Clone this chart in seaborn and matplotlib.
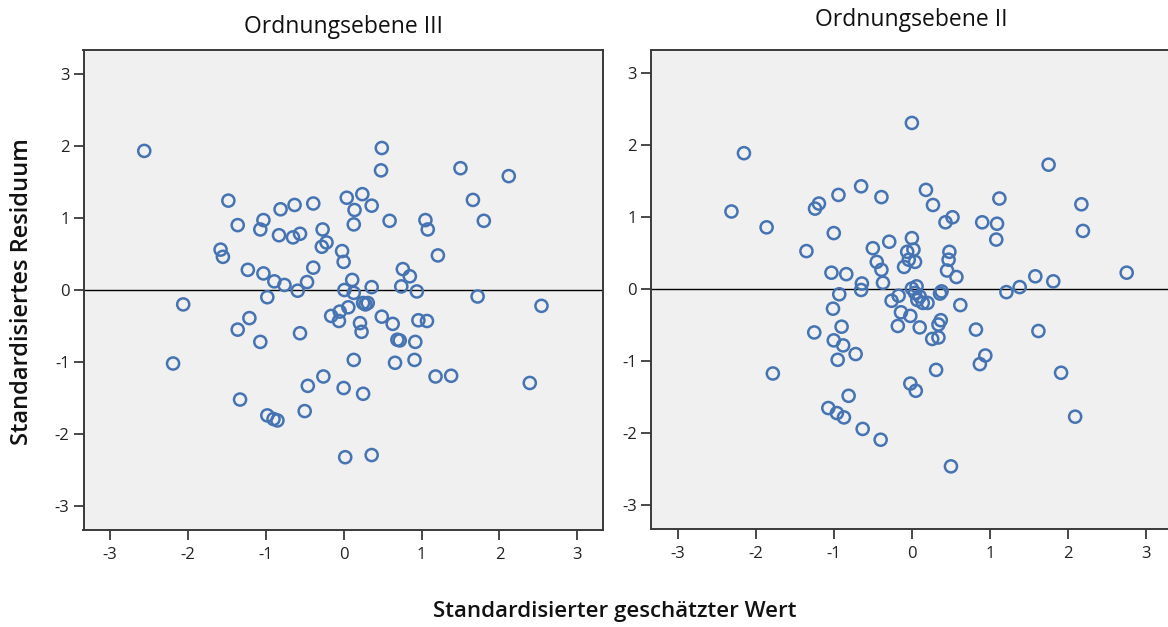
import matplotlib
matplotlib.use("Agg")
import matplotlib.pyplot as plt
import seaborn as sns
import pandas as pd

# Ordnungsebene III: standardized predicted value vs. standardized residual
pred_iii = [-2.56, -1.48, -1.36, -1.03, -1.07, -0.81, -0.63, -0.39, -0.83, -0.65,
            -0.56, -0.27, -0.22, -0.28, 0.04, 0.24, 0.36, 0.14, 0.13, 0.59,
            1.05, 1.08, 1.21, 0.49, 0.48, 1.50, 2.12, 1.66, 1.80, -1.58,
            -1.55, -1.23, -1.03, -0.89, -0.76, -0.59, -0.47, -0.39, -0.98, -0.02,
            0.00, 0.11, 0.01, 0.13, 0.36, 0.25, 0.28, 0.31, 0.06, -0.05,
            -0.16, -0.06, 0.21, 0.23, 0.49, 0.63, 0.76, 0.85, 0.74, 0.94,
            0.96, 1.07, 0.69, 0.72, 0.92, -1.21, -1.36, -1.07, -0.56, 0.13,
            0.66, 0.91, -2.06, -2.19, -1.33, -0.98, -0.90, -0.85, -0.50, -0.46,
            -0.26, 0.00, 0.02, 0.25, 0.36, 1.18, 1.38, 1.72, 2.54, 2.39]
resid_iii = [1.93, 1.24, 0.90, 0.97, 0.84, 1.12, 1.18, 1.20, 0.76, 0.73,
             0.78, 0.84, 0.66, 0.60, 1.28, 1.33, 1.17, 1.11, 0.91, 0.96,
             0.97, 0.84, 0.48, 1.97, 1.66, 1.69, 1.58, 1.25, 0.96, 0.56,
             0.46, 0.28, 0.23, 0.12, 0.07, -0.01, 0.11, 0.31, -0.10, 0.54,
             0.39, 0.14, 0.00, -0.04, 0.04, -0.18, -0.20, -0.18, -0.24, -0.30,
             -0.36, -0.43, -0.46, -0.58, -0.37, -0.47, 0.29, 0.19, 0.05, -0.02,
             -0.42, -0.43, -0.69, -0.70, -0.72, -0.39, -0.55, -0.72, -0.60, -0.97,
             -1.01, -0.97, -0.20, -1.02, -1.52, -1.74, -1.79, -1.81, -1.68, -1.33,
             -1.20, -1.36, -2.32, -1.44, -2.29, -1.20, -1.19, -0.09, -0.22, -1.29]

# Ordnungsebene II
pred_ii = [-2.15, -2.31, -1.86, -1.35, -1.24, -1.19, -0.94, -0.65, -0.39, -1.00,
           -1.03, -0.84, -0.50, -0.29, -0.45, -0.39, -0.37, -0.64, -0.65, 0.00,
           1.75, 2.17, 2.19, 2.75, 0.18, 0.27, 0.43, 0.52, 0.90, 1.12,
           1.09, 1.08, 0.00, -0.06, 0.02, -0.04, 0.04, -0.10, 0.48, 0.47,
           0.45, 0.57, 1.58, 1.81, 1.21, 1.38, 1.62, 1.91, 2.09, 0.50,
           0.82, 0.94, 0.87, 0.31, -0.02, 0.05, 0.62, 0.37, 0.34,
           0.26, 0.34, 0.10, -0.18, -0.14, -0.02, -0.26, -0.17, 0.00, 0.06,
           0.04, 0.10, 0.07, 0.14, 0.20, 0.36, 0.38, -0.93, -1.01, -0.90,
           -1.25, -1.00, -0.88, -0.72, -0.95, -1.78, -0.81, -1.07, -0.96, -0.87,
           -0.63, -0.40]
resid_ii = [1.89, 1.08, 0.86, 0.53, 1.12, 1.19, 1.31, 1.43, 1.28, 0.78,
            0.23, 0.21, 0.57, 0.66, 0.38, 0.27, 0.09, 0.08, -0.01, 2.31,
            1.73, 1.18, 0.81, 0.23, 1.38, 1.17, 0.93, 1.00, 0.93, 1.26,
            0.91, 0.69, 0.71, 0.52, 0.55, 0.41, 0.38, 0.31, 0.52, 0.41,
            0.26, 0.17, 0.18, 0.11, -0.04, 0.03, -0.58, -1.16, -1.77, -2.46,
            -0.56, -0.92, -1.04, -1.12, -1.31, -1.41, -0.22, -0.43, -0.49,
            -0.69, -0.67, -0.53, -0.51, -0.32, -0.37, -0.16, -0.09, 0.01, 0.04,
            -0.05, -0.10, -0.15, -0.19, -0.19, -0.06, -0.03, -0.07, -0.27, -0.52,
            -0.60, -0.71, -0.78, -0.90, -0.98, -1.17, -1.48, -1.65, -1.72, -1.78,
            -1.94, -2.09]

titles = ["Ordnungsebene III", "Ordnungsebene II"]
ticks = [-3, -2, -1, 0, 1, 2, 3]
xlabel = "Standardisierter geschätzter Wert"
ylabel = "Standardisiertes Residuum"

sns.set_theme(style="ticks")
plt.rcParams["font.family"] = ["Open Sans", "DejaVu Sans"]

W, H = 1168, 627
fig = plt.figure(figsize=(W / 100, H / 100), dpi=100)
fig.patch.set_facecolor("white")


def box(left, top, right, bottom):
    return [left / W, 1 - bottom / H, (right - left) / W, (bottom - top) / H]


ax1 = fig.add_axes(box(83.5, 50, 603, 530))
ax2 = fig.add_axes(box(651, 49.5, 1172, 529))

panels = [
    (ax1, pd.DataFrame({"x": pred_iii, "y": resid_iii}), titles[0], 27),
    (ax2, pd.DataFrame({"x": pred_ii, "y": resid_ii}), titles[1], 20),
]

marker_color = "#4674B3"
frame_color = "#3a3a3a"

for ax, df, title, title_y in panels:
    ax.set_facecolor("#F0F0F0")
    ax.axhline(0, color="black", lw=1.0, zorder=1)
    sns.scatterplot(data=df, x="x", y="y", ax=ax, marker="o", s=76,
                    facecolors="none", edgecolor=marker_color,
                    linewidth=1.8, zorder=3, legend=False)
    ax.set_xlim(-3.34, 3.33)
    ax.set_ylim(-3.33, 3.33)
    ax.set_xticks(ticks)
    ax.set_yticks(ticks)
    ax.set_xticklabels([str(t) for t in ticks])
    ax.set_yticklabels([str(t) for t in ticks])
    ax.tick_params(axis="both", direction="out", length=7, width=1.3,
                   color=frame_color, labelsize=12, labelcolor="#222222",
                   pad=3)
    ax.tick_params(axis="x", pad=5)
    ax.tick_params(top=False, right=False)
    for sp in ax.spines.values():
        sp.set_color(frame_color)
        sp.set_linewidth(1.4)
    ax.set_xlabel("")
    ax.set_ylabel("")
    cx = (ax.get_position().x0 + ax.get_position().x1) / 2
    fig.text(cx, 1 - title_y / H, title, ha="center", va="center",
             fontsize=16.5, color="#111111")

fig.text(615 / W, 1 - 612 / H, xlabel, ha="center", va="center",
         fontsize=16, fontweight="semibold", color="#111111")
fig.text(22 / W, 1 - 292 / H, ylabel, ha="center", va="center",
         rotation=90, fontsize=17, fontweight="semibold", color="#111111")

fig.savefig("out.png", dpi=100, facecolor="white")
